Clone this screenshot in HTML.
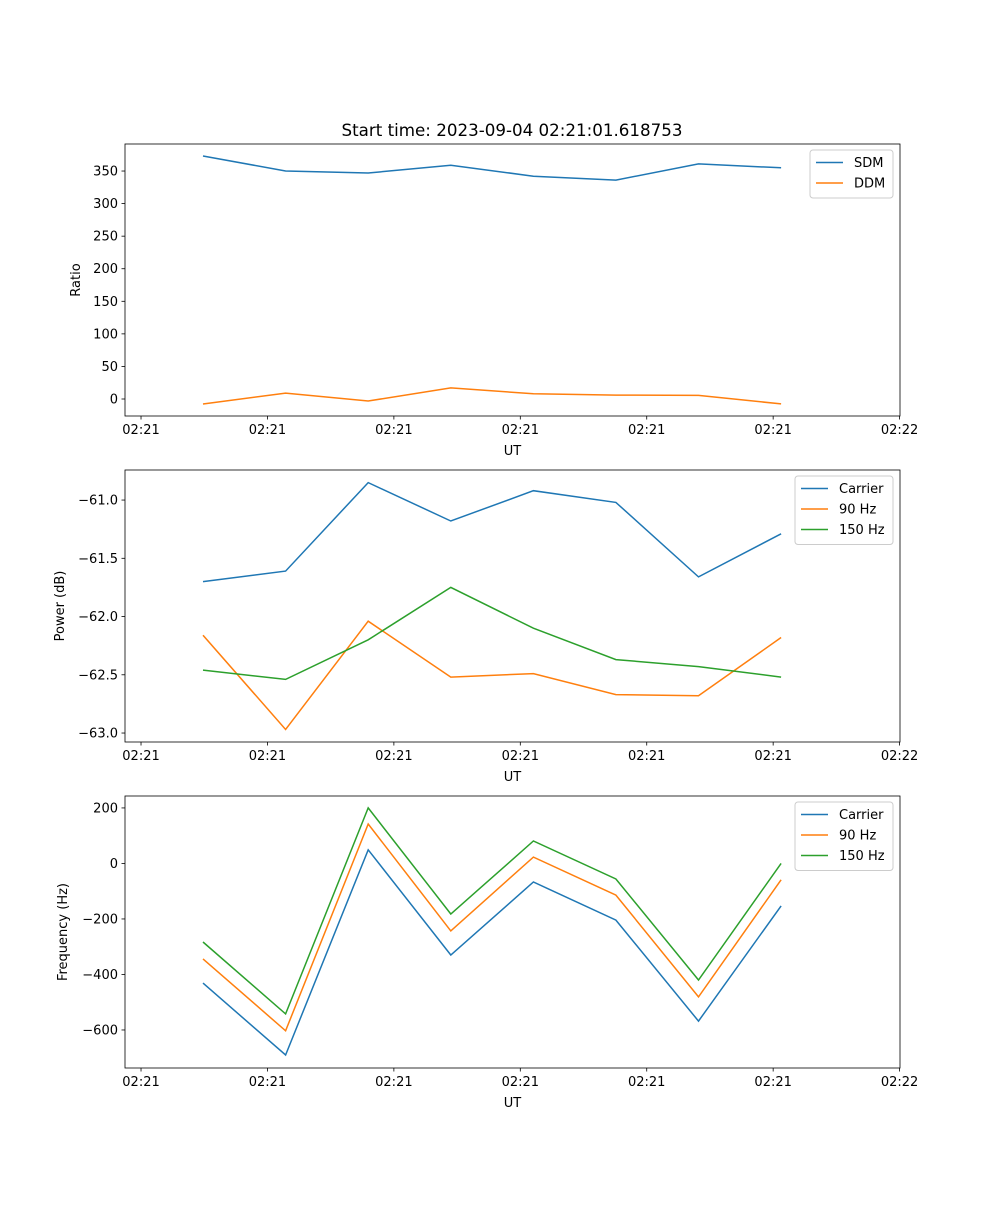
<!DOCTYPE html>
<html><head><meta charset="utf-8"><style>
body{margin:0;background:#fff;}
svg text{font-family:"DejaVu Sans","Liberation Sans",sans-serif;fill:#000;}
</style></head><body>
<svg id="fig" width="1000" height="1200" xmlns="http://www.w3.org/2000/svg">
<text x="512" y="136" font-size="16.7" text-anchor="middle">Start time: 2023-09-04 02:21:01.618753</text>
</svg>
<script>
const xIndex = [0,1,2,3,4,5,6,7];
const xTickVals = [-0.751,0.780,2.311,3.842,5.373,6.904,8.435];
const xTickLabels = ["02:21","02:21","02:21","02:21","02:21","02:21","02:22"];
const sdm = [373,350,347,359,342,336,361,355];
const ddm = [-7.7,9,-3,17,8,6,5.5,-7.5];
const powCarrier = [-61.70,-61.61,-60.85,-61.18,-60.92,-61.02,-61.66,-61.29];
const pow90 = [-62.16,-62.97,-62.04,-62.52,-62.49,-62.67,-62.68,-62.18];
const pow150 = [-62.46,-62.54,-62.20,-61.75,-62.10,-62.37,-62.43,-62.52];
const freqCarrier = [-431,-690,49,-330,-67,-204,-568,-153];
const freq90 = [-344,-603,142,-243,23,-114,-481,-59];
const freq150 = [-283,-542,200,-182,81,-56,-420,0];
const ratioTicks = [0,50,100,150,200,250,300,350];
const powerTicks = [-63.0,-62.5,-62.0,-61.5,-61.0];
const freqTicks = [-600,-400,-200,0,200];

const NS="http://www.w3.org/2000/svg";
const svg=document.getElementById('fig');
function mk(tag,attrs,parent){const e=document.createElementNS(NS,tag);for(const k in attrs)e.setAttribute(k,attrs[k]);(parent||svg).appendChild(e);return e;}
const L=125,R=900,xMin=-0.945,xMax=8.44;
const xs=v=>L+(v-xMin)/(xMax-xMin)*(R-L);
const C=['#1f77b4','#ff7f0e','#2ca02c'];

function panel(name,top,bot,yMin,yMax,yTicks,fmt,ylabel,series,labels,legW){
  const g=mk('g',{});
  
  
  const ys=v=>bot-(v-yMin)/(yMax-yMin)*(bot-top);
  series.forEach((s,i)=>{
    const p=mk('polyline',{points:s.map((v,j)=>xs(xIndex[j]).toFixed(1)+','+ys(v).toFixed(1)).join(' '),fill:'none',stroke:C[i],'stroke-width':1.5},g);
    
    
  });
  const f=mk('rect',{x:L,y:top,width:R-L,height:bot-top,fill:'none',stroke:'#000','stroke-width':0.8},g);
  
  
  xTickVals.forEach((v,i)=>{
    const x=xs(v);
    mk('line',{x1:x,x2:x,y1:bot,y2:bot+3.5,stroke:'#000','stroke-width':0.8},g);
    const t=mk('text',{x:x,y:bot+18,'font-size':13,'text-anchor':'middle'},g);
    t.textContent=xTickLabels[i];
    
    
  });
  yTicks.forEach(v=>{
    const y=ys(v);
    mk('line',{x1:L-3.5,x2:L,y1:y,y2:y,stroke:'#000','stroke-width':0.8},g);
    const t=mk('text',{x:L-7,y:y+4.5,'font-size':13,'text-anchor':'end'},g);
    t.textContent=fmt(v);
    
    
  });
  const xl=mk('text',{x:(L+R)/2,y:bot+39,'font-size':13,'text-anchor':'middle'},g);
  xl.textContent='UT';
  
  
  const lx=ylabel==='Ratio'?80:ylabel==='Power (dB)'?64:67;
  const yl=mk('text',{x:lx,y:(top+bot)/2,'font-size':13,'text-anchor':'middle',transform:`rotate(-90 ${lx} ${(top+bot)/2})`},g);
  yl.textContent=ylabel;
  
  
  const lg=mk('g',{},g);
  
  
  const lx0=R-7-legW, ly0=top+6;
  mk('rect',{x:lx0,y:ly0,width:legW,height:labels.length*20.5+7,rx:3,fill:'#fff',stroke:'#ccc','stroke-width':1},lg);
  labels.forEach((lab,i)=>{
    const y=ly0+12.5+i*20.5;
    mk('line',{x1:lx0+6,x2:lx0+33,y1:y,y2:y,stroke:C[i],'stroke-width':1.5},lg);
    const t=mk('text',{x:lx0+44,y:y+4.5,'font-size':13},lg);
    t.textContent=lab;
    
    
  });
}
panel('ratio',144,416,-26.1,391.5,ratioTicks,v=>String(v),'Ratio',[sdm,ddm],['SDM','DDM'],83);
panel('power',470,742,-63.077,-60.742,powerTicks,v=>v.toFixed(1).replace('-','−'),'Power (dB)',[powCarrier,pow90,pow150],['Carrier','90 Hz','150 Hz'],98);
panel('frequency',796,1068,-737,243,freqTicks,v=>String(v).replace('-','−'),'Frequency (Hz)',[freqCarrier,freq90,freq150],['Carrier','90 Hz','150 Hz'],98);
</script>
</body></html>
